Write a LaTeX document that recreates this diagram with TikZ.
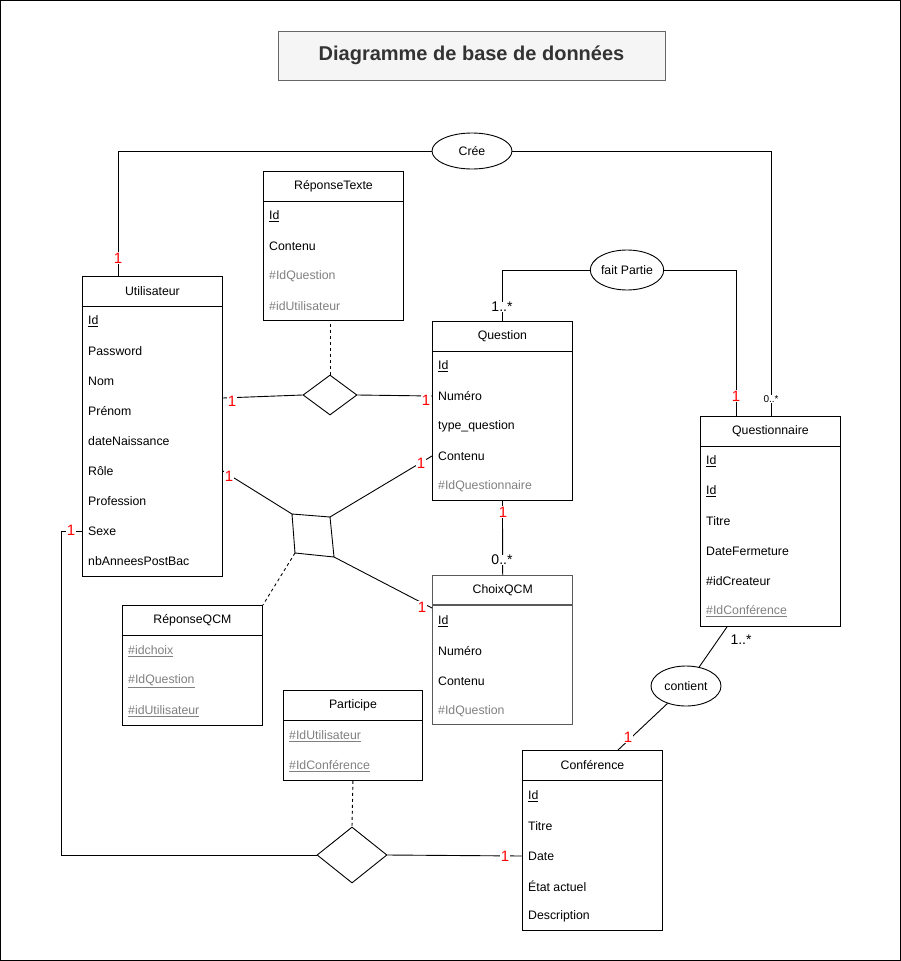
\documentclass[tikz,border=0pt]{standalone}
\usepackage{fontspec}
\setmainfont{Liberation Sans}
\usetikzlibrary{shapes.geometric,calc}
\definecolor{gtxt}{HTML}{808080}
\definecolor{redl}{HTML}{FF0000}
\definecolor{titlefill}{HTML}{F5F5F5}
\definecolor{titleborder}{HTML}{666666}
\definecolor{titletext}{HTML}{333333}
\definecolor{choixb}{HTML}{5A5A5A}
\newcommand\mktable[8]{% name, left, top, width, height, title, colour, line width
  \node[tbox, draw=#7, line width=#8, minimum width=#4, minimum height=#5, anchor=north west] (#1) at (#2,#3) {};
  \draw[draw=#7, line width=#8] ($(#1.north west)+(0,30)$) -- ($(#1.north east)+(0,30)$);
  \node[hdr] (#1-t) at ($(#1.north)+(0,15)$) {#6};
}
\begin{document}
\begin{tikzpicture}[x=1pt,y=-1pt,
  tbox/.style={rectangle, inner sep=0pt},
  hdr/.style={font=\fontsize{12.3}{14}\selectfont, inner sep=0pt},
  attr/.style={font=\fontsize{12.3}{14}\selectfont, anchor=west, inner sep=0pt},
  fk/.style={attr, text=gtxt},
  lbl/.style={font=\fontsize{15}{17}\selectfont, text=redl, fill=white, inner sep=0.5pt},
  mult/.style={font=\fontsize{14}{16}\selectfont, fill=white, inner sep=0.5pt},
  smult/.style={font=\fontsize{10}{12}\selectfont, fill=white, inner sep=0.5pt},
  rel/.style={ellipse, draw, line width=0.9pt, inner sep=0pt, font=\fontsize{12.3}{14}\selectfont},
  conn/.style={line width=0.9pt},
  dconn/.style={line width=0.9pt, dash pattern=on 3pt off 3pt},
]
\useasboundingbox (0,0) rectangle (901,961);
\draw[line width=1pt] (0.5,0.5) rectangle (900.5,960.5);

% title
\node[draw=titleborder, fill=titlefill, line width=1pt, minimum width=387pt, minimum height=49pt, inner sep=0pt,
      text=titletext, font=\bfseries\fontsize{20}{24}\selectfont] (title) at (471.5,55.5) {Diagramme de base de données};

% Utilisateur
\mktable{util}{82}{276}{140pt}{300pt}{Utilisateur}{black}{0.9pt}
\node[attr] (u1) at (88,321) {\underline{Id}};
\node[attr] (u2) at (88,351) {Password};
\node[attr] (u3) at (88,381) {Nom};
\node[attr] (u4) at (88,411) {Prénom};
\node[attr] (u5) at (88,441) {dateNaissance};
\node[attr] (u6) at (88,471) {Rôle};
\node[attr] (u7) at (88,501) {Profession};
\node[attr] (u8) at (88,531) {Sexe};
\node[attr] (u9) at (88,561) {nbAnneesPostBac};

% RéponseTexte
\mktable{rt}{263}{171}{140pt}{149pt}{RéponseTexte}{black}{0.9pt}
\node[attr] (rt1) at (269,216) {\underline{Id}};
\node[attr] (rt2) at (269,246) {Contenu};
\node[fk] (rt3) at (269,276) {\#IdQuestion};
\node[fk] (rt4) at (269,306) {\#idUtilisateur};

% Question
\mktable{quest}{432}{321}{140pt}{179pt}{Question}{black}{0.9pt}
\node[attr] (q1) at (438,366) {\underline{Id}};
\node[attr] (q2) at (438,396) {Numéro};
\node[attr] (q3) at (438,426) {type\_question};
\node[attr] (q4) at (438,456) {Contenu};
\node[fk] (q5) at (438,486) {\#IdQuestionnaire};

% Questionnaire
\mktable{qnaire}{700}{416}{140pt}{210pt}{Questionnaire}{black}{0.9pt}
\node[attr] (qn1) at (706,461) {\underline{Id}};
\node[attr] (qn2) at (706,491) {\underline{Id}};
\node[attr] (qn3) at (706,521) {Titre};
\node[attr] (qn4) at (706,551) {DateFermeture};
\node[attr] (qn5) at (706,581) {\#idCreateur};
\node[fk] (qn6) at (706,611) {\underline{\#IdConférence}};

% ChoixQCM
\mktable{choix}{432}{575}{140pt}{149pt}{ChoixQCM}{choixb}{1.4pt}
\node[attr] (c1) at (438,621) {\underline{Id}};
\node[attr] (c2) at (438,651) {Numéro};
\node[attr] (c3) at (438,681) {Contenu};
\node[fk] (c4) at (438,711) {\#IdQuestion};

% RéponseQCM
\mktable{rqcm}{122}{605}{140pt}{120pt}{RéponseQCM}{black}{0.9pt}
\node[fk] (r1) at (128,651) {\underline{\#idchoix}};
\node[fk] (r2) at (128,681) {\underline{\#IdQuestion}};
\node[fk] (r3) at (128,711) {\underline{\#idUtilisateur}};

% Participe
\mktable{part}{283}{690}{139pt}{90pt}{Participe}{black}{0.9pt}
\node[fk] (p1) at (289,736) {\underline{\#IdUtilisateur}};
\node[fk] (p2) at (289,766) {\underline{\#IdConférence}};

% Conférence
\mktable{conf}{522}{750}{140pt}{180pt}{Conférence}{black}{0.9pt}
\node[attr] (cf1) at (528,796) {\underline{Id}};
\node[attr] (cf2) at (528,826) {Titre};
\node[attr] (cf3) at (528,856) {Date};
\node[attr] (cf4) at (528,886) {État actuel};
\node[attr] (cf5) at (528,916) {Description};

% relations
\node[rel, minimum width=80pt, minimum height=36pt] (cree) at (472,151) {Crée};
\node[rel, minimum width=70pt, minimum height=40pt] (fp) at (627,270) {fait Partie};
\node[rel, minimum width=70pt, minimum height=40pt] (cont) at (686,686) {contient};
\node[diamond, draw, line width=0.9pt, minimum width=54pt, minimum height=40pt, inner sep=0pt] (d1) at (330,395) {};
\node[diamond, draw, line width=0.9pt, minimum width=70pt, minimum height=56pt, inner sep=0pt] (d2) at (352,855) {};
\coordinate (sqa) at (292,514);
\coordinate (sqb) at (330,517);
\coordinate (sqc) at (334,557);
\coordinate (sqd) at (295,553);
\draw[conn] (sqa) -- (sqb) -- (sqc) -- (sqd) -- cycle;

% connectors
\draw[conn] ([xshift=36pt]util.north west) |- (cree.west);
\draw[conn] (cree.east) -| ([xshift=71pt]qnaire.north west);
\draw[conn] (quest.north) |- (fp.west);
\draw[conn] (fp.east) -| ([xshift=36pt]qnaire.north west);
\draw[conn] ([yshift=-122pt]util.north east) -- (d1.west);
\draw[conn] (d1.east) -- (q2.west -| quest.west);
\draw[dconn] (d1.north) -- (d1.north |- rt.south);
\draw[conn] (u6.west -| util.east) -- (sqa);
\draw[conn] (sqb) -- (q4.west -| quest.west);
\draw[conn] (sqc) -- ([yshift=-33pt]choix.north west);
\draw[dconn] (sqd) -- (rqcm.north east);
\draw[conn] (quest.south) -- (choix.north);
\draw[conn] ([xshift=27pt]qnaire.south west) -- (cont);
\draw[conn] (cont) -- ([xshift=96pt]conf.north west);
\draw[dconn] (part.south) -- (d2.north);
\draw[conn] (u8.west -| util.west) -- ++(-21,0) |- (d2.west);
\draw[conn] (d2.east) -- (cf3.west -| conf.west);

% multiplicities
\node[lbl] (m1) at (118,258) {1};
\node[smult] (m2) at (771,399) {0..*};
\node[mult] (m3) at (502,307) {1..*};
\node[lbl] (m4) at (736,396) {1};
\node[lbl] (m5) at (232,401) {1};
\node[lbl] (m6) at (426,400) {1};
\node[lbl] (m7) at (229,476) {1};
\node[lbl] (m8) at (421,463) {1};
\node[lbl] (m9) at (422,607) {1};
\node[lbl] (m10) at (503,512) {1};
\node[mult] (m11) at (502,560) {0..*};
\node[mult] (m12) at (741,640) {1..*};
\node[lbl] (m13) at (628,737) {1};
\node[lbl] (m14) at (71,530) {1};
\node[lbl] (m15) at (505,856) {1};
\end{tikzpicture}
\end{document}
